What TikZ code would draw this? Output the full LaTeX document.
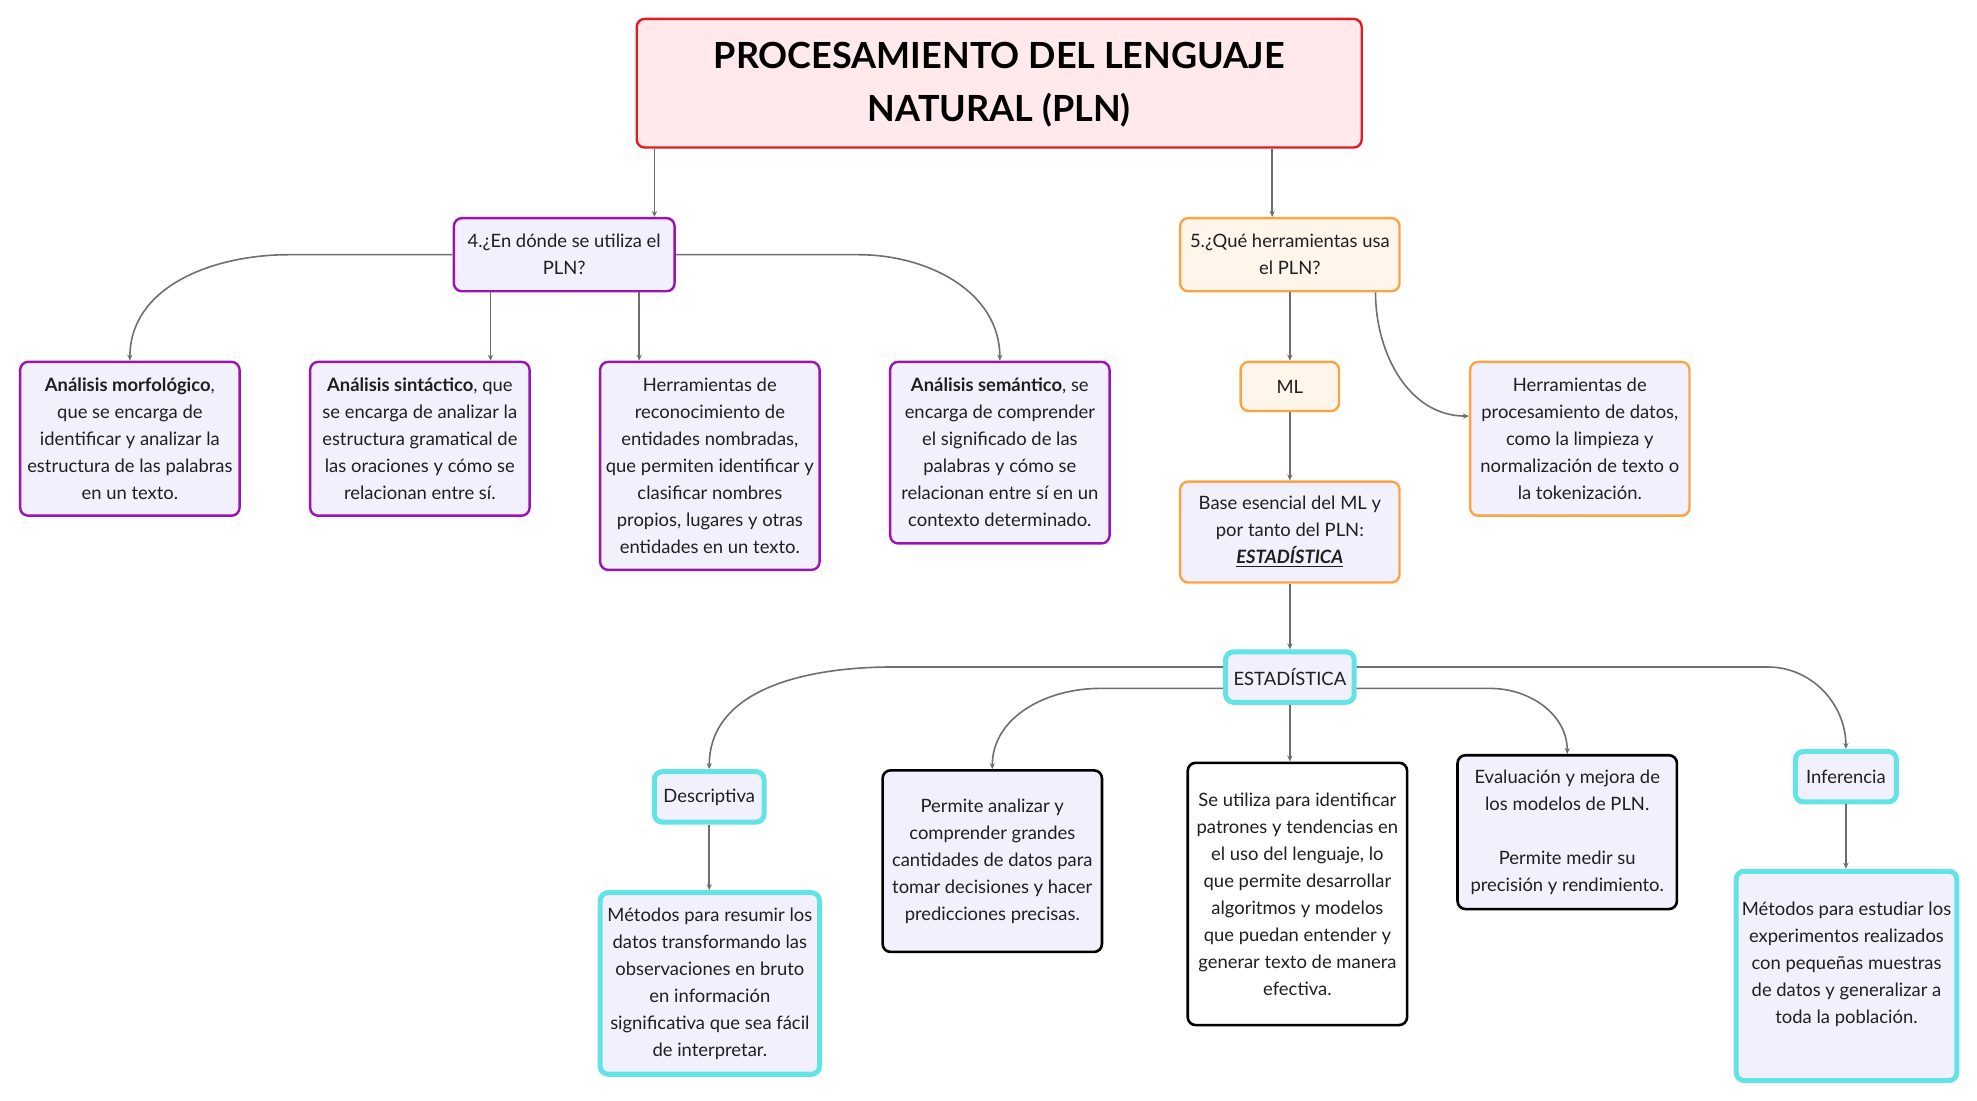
\documentclass[tikz,border=0pt]{standalone}
\usepackage{fontspec}
\setmainfont{Lato}
\usetikzlibrary{arrows.meta}
\definecolor{gris}{HTML}{6E6E6E}
\definecolor{rojo}{HTML}{E31B23}
\definecolor{rosa}{HTML}{FFE9EA}
\definecolor{lila}{HTML}{9B13B5}
\definecolor{lavanda}{HTML}{F3F0FD}
\definecolor{naranja}{HTML}{FBA443}
\definecolor{crema}{HTML}{FFF5EB}
\definecolor{cian}{HTML}{63E3E5}
\begin{document}
\begin{tikzpicture}[x=0.63pt,y=-0.63pt]
      \tikzset{box/.style={draw, rounded corners=4pt, line width=1.2pt, inner sep=0pt, align=center, text=black!88, font=\fontsize{9.2}{13.5}\selectfont},
        sz/.style 2 args={minimum width=#1*0.63pt, minimum height=#2*0.63pt},
        tbox/.style={box, draw=rojo, fill=rosa, text=black, font=\fontsize{18}{26.5}\selectfont\bfseries},
        pbox/.style={box, draw=lila, fill=lavanda},
        obox/.style={box, draw=naranja, fill=crema},
        lbox/.style={box, draw=naranja, fill=lavanda},
        cbox/.style={box, draw=cian, fill=lavanda, line width=2.5pt},
        kbox/.style={box, draw=black, line width=1.3pt},
        conn/.style={draw=gris, line width=0.8pt, -{Stealth[length=3pt,width=2.6pt]}}}
    \useasboundingbox (0,0) rectangle (1568,873);

    \node[tbox, sz={575}{102}] at (792.5,66) (title) {\rule{0pt}{15pt}PROCESAMIENTO DEL LENGUAJE\\NATURAL (PLN)};
    \node[pbox, sz={175}{58}] at (447.5,202) (q4) {4.¿En dónde se utiliza el\\PLN?};
    \node[obox, sz={174}{58}] at (1023,202) (q5) {5.¿Qué herramientas usa\\el PLN?};

    \node[pbox, sz={174}{122}] at (103,348) (morf) {\textbf{Análisis morfológico},\\que se encarga de\\identificar y analizar la\\estructura de las palabras\\en un texto.};
    \node[pbox, sz={174}{122}] at (333,348) (sint) {\textbf{Análisis sintáctico}, que\\se encarga de analizar la\\estructura gramatical de\\las oraciones y cómo se\\relacionan entre sí.};
    \node[pbox, sz={174}{165}] at (563,369.5) (ent) {Herramientas de\\reconocimiento de\\entidades nombradas,\\que permiten identificar y\\clasificar nombres\\propios, lugares y otras\\entidades en un texto.};
    \node[pbox, sz={174}{144}] at (793,359) (sem) {\textbf{Análisis semántico}, se\\encarga de comprender\\el significado de las\\palabras y cómo se\\relacionan entre sí en un\\contexto determinado.};

    \node[obox, sz={78}{39}] at (1023,306.5) (ml) {ML};
    \node[lbox, sz={174}{122}] at (1253,348) (proc) {Herramientas de\\procesamiento de datos,\\como la limpieza y\\normalización de texto o\\la tokenización.};
    \node[lbox, sz={174}{80}] at (1023,422) (base) {Base esencial del ML y\\por tanto del PLN:\\\textbf{\textit{\underline{ESTADÍSTICA}}}};

    \node[cbox, sz={102}{40}] at (1023,537) (est) {ESTADÍSTICA};
    \node[cbox, sz={87}{40}] at (562.5,632) (desc) {Descriptiva};
    \node[kbox, fill=lavanda, sz={174}{144}] at (787,683) (perm) {Permite analizar y\\comprender grandes\\cantidades de datos para\\tomar decisiones y hacer\\predicciones precisas.};
    \node[kbox, fill=white, sz={174}{208}] at (1029,709) (util) {Se utiliza para identificar\\patrones y tendencias en\\el uso del lenguaje, lo\\que permite desarrollar\\algoritmos y modelos\\que puedan entender y\\generar texto de manera\\efectiva.};
    \node[kbox, fill=lavanda, sz={174}{122}] at (1243,660) (eval) {Evaluación y mejora de\\los modelos de PLN.\\~\\Permite medir su\\precisión y rendimiento.};
    \node[cbox, sz={80}{40}] at (1464,616) (infer) {Inferencia};
    \node[cbox, sz={174}{144}] at (563,780) (metd) {Métodos para resumir los\\datos transformando las\\observaciones en bruto\\en información\\significativa que sea fácil\\de interpretar.};
    \node[cbox, sz={175}{166}] at (1464.5,774) (meti) {Métodos para estudiar los\\experimentos realizados\\con pequeñas muestras\\de datos y generalizar a\\toda la población.\\~};

    % title to questions
    \draw[conn] ([xshift=15*0.63pt]title.south west) -- ([xshift=15*0.63pt]title.south west |- q4.north);
    \draw[conn] ([xshift=-72*0.63pt]title.south east) -- ([xshift=-72*0.63pt]title.south east |- q5.north);

    % question 4
    \draw[conn] (q4.west) -- ++(-130,0) to[out=180,in=90] (morf.north);
    \draw[conn] ([xshift=30*0.63pt]q4.south west) -- ([xshift=30*0.63pt]q4.south west |- sint.north);
    \draw[conn] ([xshift=-29*0.63pt]q4.south east) -- ([xshift=-29*0.63pt]q4.south east |- ent.north);
    \draw[conn] (q4.east) -- ++(145,0) to[out=0,in=90] (sem.north);

    % question 5
    \draw[conn] (q5.south) -- (ml.north);
    \draw[conn] ([xshift=-20*0.63pt]q5.south east) to[out=-90,in=180] ([yshift=18*0.63pt]proc.west);
    \draw[conn] (ml.south) -- (base.north);
    \draw[conn] (base.south) -- (est.north);

    % estadistica
    \draw[conn] ([yshift=8*0.63pt]est.west) -- ++(-262,0) to[out=180,in=90] (desc.north);
    \draw[conn] ([yshift=-9*0.63pt]est.west) -- ++(-98,0) to[out=180,in=90] (perm.north);
    \draw[conn] (est.south) -- (est.south |- util.north);
    \draw[conn] ([yshift=-9*0.63pt]est.east) -- ++(106,0) to[out=0,in=90] (eval.north);
    \draw[conn] ([yshift=8*0.63pt]est.east) -- ++(326,0) to[out=0,in=90] (infer.north);
    \draw[conn] (desc.south) -- (desc.south |- metd.north);
    \draw[conn] (infer.south) -- (infer.south |- meti.north);
\end{tikzpicture}
\end{document}
